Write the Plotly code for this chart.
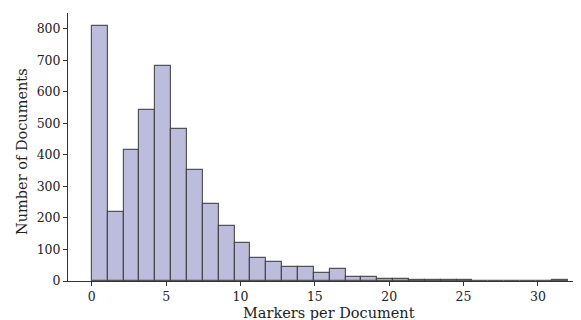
import numpy as np
import plotly.graph_objects as go

# Histogram counts (30 bins between 0 and 32)
bin_start = 0
bin_end = 32
counts = [810, 219, 416, 543, 683, 483, 351, 244, 175, 121,
          73, 59, 44, 44, 25, 37, 12, 13, 5, 5,
          4, 4, 2, 2, 1, 1, 0, 0, 1, 2]
x_ticks = [0, 5, 10, 15, 20, 25, 30]
y_ticks = [0, 100, 200, 300, 400, 500, 600, 700, 800]
x_title = "Markers per Document"
y_title = "Number of Documents"

edges = np.linspace(bin_start, bin_end, len(counts) + 1)
centers = (edges[:-1] + edges[1:]) / 2
width = edges[1] - edges[0]

fig = go.Figure(go.Bar(
    x=centers, y=counts, width=width,
    marker=dict(color="#bcbddc", line=dict(color="rgba(60,60,60,0.85)", width=1.2)),
))

font = "DejaVu Serif"
OFF = 8  # default page body margin
W, H = 581 - OFF, 320 - OFF
L, R, T, B = 68 - OFF, 0, 13 - OFF, 39
fig.update_layout(
    width=W, height=H,
    margin=dict(l=L, r=R, t=T, b=B, autoexpand=False),
    paper_bgcolor="white", plot_bgcolor="white",
    font=dict(family=font, color="#222", size=12.5),
    showlegend=False,
    bargap=0,
    annotations=[
        dict(text=x_title, xref="paper", yref="paper", x=(329 - OFF - L) / (W - L - R),
             y=-(313 - OFF - (H - B)) / (H - T - B), xanchor="center", yanchor="middle",
             showarrow=False, font=dict(size=14.5)),
        dict(text=y_title, xref="paper", yref="paper", x=-(L - (22 - OFF)) / (W - L - R),
             y=((H - B) - (152 - OFF)) / (H - T - B), xanchor="center", yanchor="middle",
             textangle=-90, showarrow=False, font=dict(size=14.5)),
    ],
)
fig.update_xaxes(
    range=[-1.6, 32.9], tickvals=x_ticks, ticks="outside", ticklen=4,
    tickcolor="#333", showline=True, linecolor="#333", linewidth=1,
    showgrid=False, zeroline=False, automargin=False,
)
fig.update_yaxes(
    range=[0, 850.5], tickvals=y_ticks, ticks="outside", ticklen=4,
    tickcolor="#333", showline=True, linecolor="#333", linewidth=1,
    showgrid=False, zeroline=False, automargin=False,
)
fig.write_html("out.html")
